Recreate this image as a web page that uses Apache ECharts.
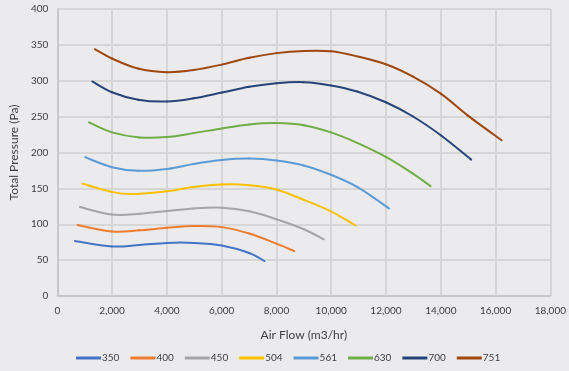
<!DOCTYPE html>
<html><head><meta charset="utf-8">
<script src="https://cdn.jsdelivr.net/npm/echarts@6/dist/echarts.min.js"></script>
<style>html,body{margin:0;padding:0;background:#EBEBEE;}#c{width:569px;height:371px;}</style>
</head><body><div id="c"></div>
<script>
const seriesNames = ['350','400','450','504','561','630','700','751'];
const s350 = [[644,76.5],[1994,69],[3000,71],[4000,74],[4977,74],[6004,70.5],[7007,60],[7565,48.7]];
const s400 = [[740,99],[1994,90],[3000,91.5],[4000,95],[4977,97.5],[6004,96],[7007,87],[8000,73],[8650,62.6]];
const s450 = [[824,124],[1994,113.5],[3000,114.5],[4000,118.5],[4977,122],[6004,123],[7007,118],[8000,107],[9000,93],[9727,79]];
const s504 = [[920,156.4],[1994,145],[2710,142],[4000,146],[4977,152],[6004,155.5],[7007,154.5],[8000,148.5],[9000,134],[9989,118],[10884,98.4]];
const s561 = [[1014,193.5],[1994,179.5],[2947,174.5],[4000,177],[4977,184],[6004,189.5],[7007,191.5],[8000,189],[9000,182],[9989,169],[10946,152],[12113,122]];
const s630 = [[1158,242],[1994,228],[3000,221],[4000,221.5],[4977,227],[6004,233.5],[7007,239],[8000,241],[9000,238],[9989,228],[10946,213.5],[11994,194],[12971,171],[13630,153]];
const s700 = [[1277,299],[1994,284],[2947,273.5],[4000,271],[4977,275.5],[6004,283.5],[7007,291.5],[8000,296.5],[9000,298],[9989,293.5],[10946,285],[11994,270],[12971,250.5],[13999,224],[15110,190]];
const s751 = [[1372,344],[1994,331],[2947,317],[4000,312],[4977,315],[6004,322.5],[7007,332],[8000,338.5],[9000,341.5],[9989,341],[10946,334],[11994,323],[12971,306],[13999,282],[15002,251],[16219,217]];
const seriesData = [s350,s400,s450,s504,s561,s630,s700,s751];
const colors = ['#4472C4','#ED7D31','#A5A5A5','#FFC000','#5B9BD5','#70AD47','#264478','#9E480E'];
const font = 'Lato, "Open Sans", sans-serif';

function makeRender(pts, color){
  return function(params, api){
    const i = params.dataIndex;
    if (i >= pts.length - 1) return null;
    const P = k => api.coord(pts[Math.max(0, Math.min(pts.length - 1, k))]);
    const p0 = P(i-1), p1 = P(i), p2 = P(i+1), p3 = P(i+2);
    const t = 1/6;
    return {
      type:'bezierCurve',
      shape:{
        x1:p1[0], y1:p1[1], x2:p2[0], y2:p2[1],
        cpx1:p1[0] + (p2[0]-p0[0])*t, cpy1:p1[1] + (p2[1]-p0[1])*t,
        cpx2:p2[0] - (p3[0]-p1[0])*t, cpy2:p2[1] - (p3[1]-p1[1])*t
      },
      style:{stroke:color, fill:null, lineWidth:2, lineCap:'round'}
    };
  };
}

const chart = echarts.init(document.getElementById('c'), null, {renderer:'canvas'});
chart.setOption({
  backgroundColor:'#EBEBEE',
  animation:false,
  color: colors,
  grid:{left:51,right:16,top:9,bottom:75,containLabel:false},
  legend:{
    bottom:3, left:71, itemWidth:25, itemHeight:3, itemGap:11,
    icon:'rect',
    textStyle:{color:'#404040',fontSize:10,fontFamily:font,padding:[0,0,0,-4]},
    data: seriesNames
  },
  xAxis:{
    type:'value', min:0, max:18000, interval:2000,
    name:'Air Flow (m3/hr)', nameLocation:'middle', nameGap:33,
    nameTextStyle:{color:'#404040',fontSize:12,fontFamily:font},
    axisLine:{show:true,lineStyle:{color:'#C8C8C8',width:2}},
    axisTick:{show:false},
    axisLabel:{color:'#404040',fontSize:10,fontFamily:font,margin:10,
      formatter:v=>v.toLocaleString('en-US')},
    splitLine:{show:true,lineStyle:{color:'#D6D6D6',width:2}}
  },
  yAxis:{
    type:'value', min:0, max:400, interval:50,
    name:'Total Pressure (Pa)', nameLocation:'middle', nameGap:32,
    nameTextStyle:{color:'#404040',fontSize:12,fontFamily:font},
    axisLine:{show:true,lineStyle:{color:'#C8C8C8',width:2}},
    axisTick:{show:false},
    axisLabel:{color:'#404040',fontSize:10,fontFamily:font,margin:9},
    splitLine:{show:true,lineStyle:{color:'#D6D6D6',width:2}}
  },
  series: seriesNames.map((n,i)=>({
    name:n, type:'custom', data:seriesData[i], encode:{x:0,y:1},
    renderItem: makeRender(seriesData[i], colors[i]),
    itemStyle:{color:colors[i]}
  }))
});
</script></body></html>
